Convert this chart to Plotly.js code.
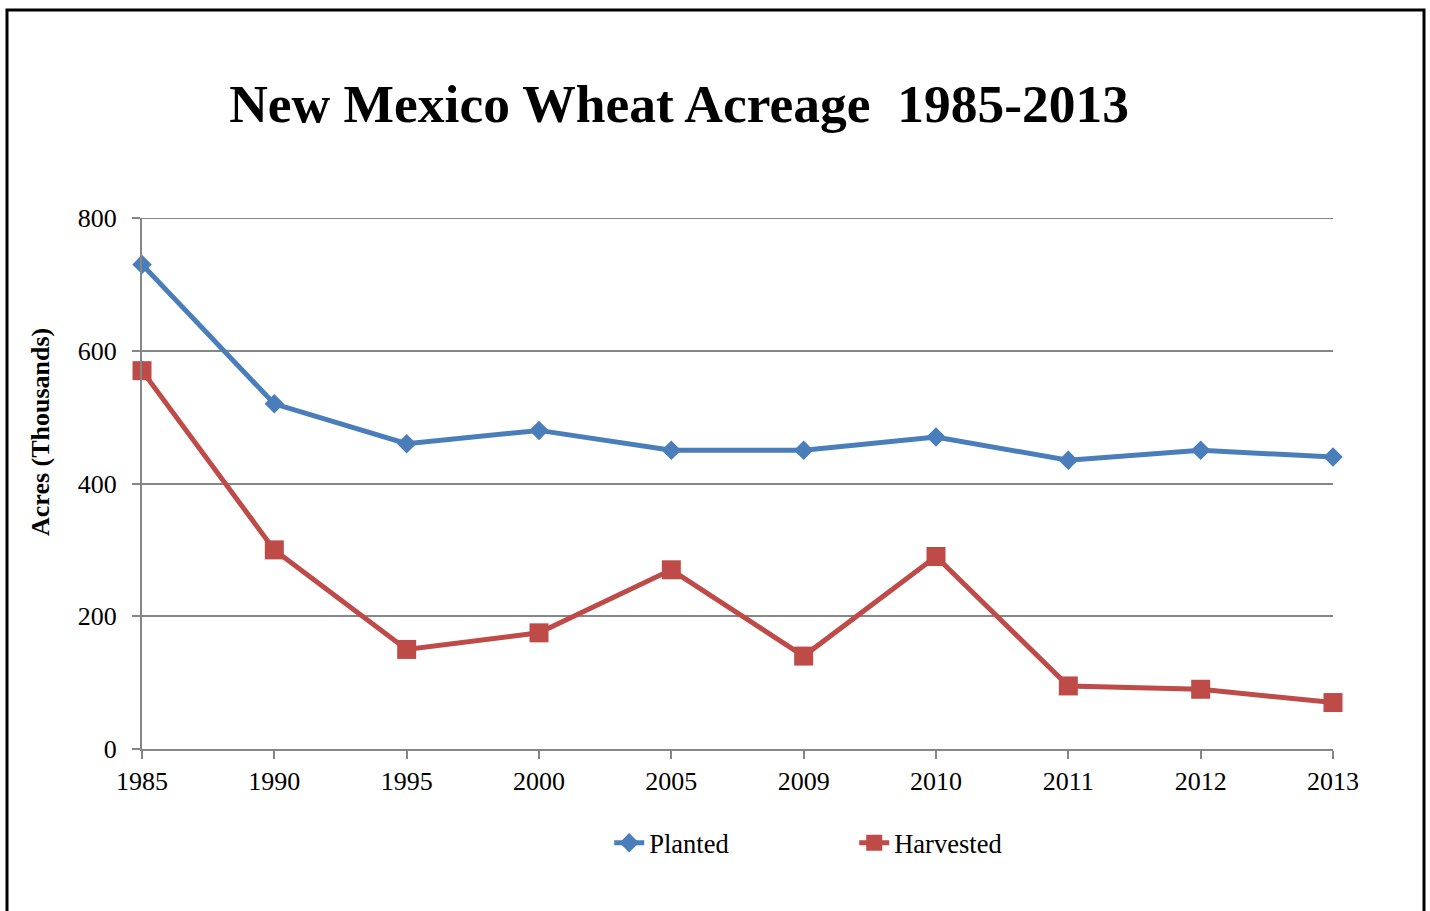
<!DOCTYPE html>
<html>
<head>
<meta charset="utf-8">
<script src="https://cdn.plot.ly/plotly-3.0.1.min.js"></script>
<style>
  html, body { margin: 0; padding: 0; background: #fff; }
  #chart { width: 1430px; height: 911px; }
</style>
</head>
<body>
<div id="chart"></div>
<script>
const years = ["1985", "1990", "1995", "2000", "2005", "2009", "2010", "2011", "2012", "2013"];
const planted = [730, 520, 460, 480, 450, 450, 470, 435, 450, 440];
const harvested = [570, 300, 150, 175, 270, 140, 290, 95, 90, 70];
const yTicks = [0, 200, 400, 600, 800];

const serif = "'Liberation Serif', 'Times New Roman', serif";
const yMax = yTicks[yTicks.length - 1];

const traces = [
  {
    x: years, y: planted, name: "Planted", type: "scatter", mode: "lines+markers",
    line: { color: "#4A7EBB", width: 5 },
    marker: { symbol: "diamond", size: 15, color: "#4A7EBB" },
    cliponaxis: false
  },
  {
    x: years, y: harvested, name: "Harvested", type: "scatter", mode: "lines+markers",
    line: { color: "#BE4B48", width: 5 },
    marker: { symbol: "square", size: 19, color: "#BE4B48" },
    cliponaxis: false
  }
];

const layout = {
  width: 1430, height: 911,
  margin: { l: 142, r: 97, t: 218, b: 162 },
  paper_bgcolor: "#fff", plot_bgcolor: "#fff",
  font: { family: serif, color: "#000" },
  title: {
    text: "<b>New Mexico Wheat Acreage  1985-2013</b>",
    font: { family: serif, size: 53.5, color: "#000" },
    xref: "paper", x: 0.451, xanchor: "center",
    yref: "container", y: 0.887, yanchor: "middle"
  },
  xaxis: {
    type: "category", range: [0, years.length - 1],
    showgrid: false, zeroline: false,
    showline: true, linecolor: "#868686", linewidth: 2,
    ticks: "outside", ticklen: 8, tickcolor: "#868686", tickwidth: 2,
    tickfont: { family: serif, size: 26, color: "#000" },
    ticklabelstandoff: 0, fixedrange: true
  },
  yaxis: {
    range: [0, yMax], tickvals: yTicks, ticktext: yTicks.map(String),
    showgrid: true, gridcolor: "#868686", gridwidth: 2,
    zeroline: false,
    showline: true, linecolor: "#868686", linewidth: 2,
    ticks: "outside", ticklen: 8, tickcolor: "#868686", tickwidth: 2,
    tickfont: { family: serif, size: 26, color: "#000" },
    ticklabelstandoff: 10,
    fixedrange: true
  },
  annotations: [{
    text: "<b>Acres (Thousands)</b>", textangle: -90,
    xref: "paper", yref: "paper",
    x: (40 - 142) / 1191, y: (749 - 432) / 531,
    xanchor: "center", yanchor: "middle", showarrow: false,
    font: { family: serif, size: 26, color: "#000" }
  }],
  showlegend: true,
  legend: {
    orientation: "h", xref: "paper", x: 0.598, xanchor: "center",
    y: -0.177, yanchor: "middle",
    font: { family: serif, size: 26.5, color: "#000" },
    entrywidth: 200, entrywidthmode: "pixels",
    bgcolor: "rgba(0,0,0,0)"
  },
  shapes: [
    {
      type: "line", xref: "paper", yref: "y",
      x0: 0, x1: 1, y0: yMax, y1: yMax,
      line: { color: "#868686", width: 2 }, layer: "below"
    },
    {
      type: "rect", xref: "paper", yref: "paper",
      x0: (7 - 142) / 1191, x1: (1424 - 142) / 1191,
      y0: (749 - 930) / 531, y1: (749 - 10) / 531,
      line: { color: "#000", width: 3 }, fillcolor: "rgba(0,0,0,0)", layer: "above"
    }
  ]
};

Plotly.newPlot("chart", traces, layout, { displayModeBar: false, staticPlot: true });
</script>
</body>
</html>
